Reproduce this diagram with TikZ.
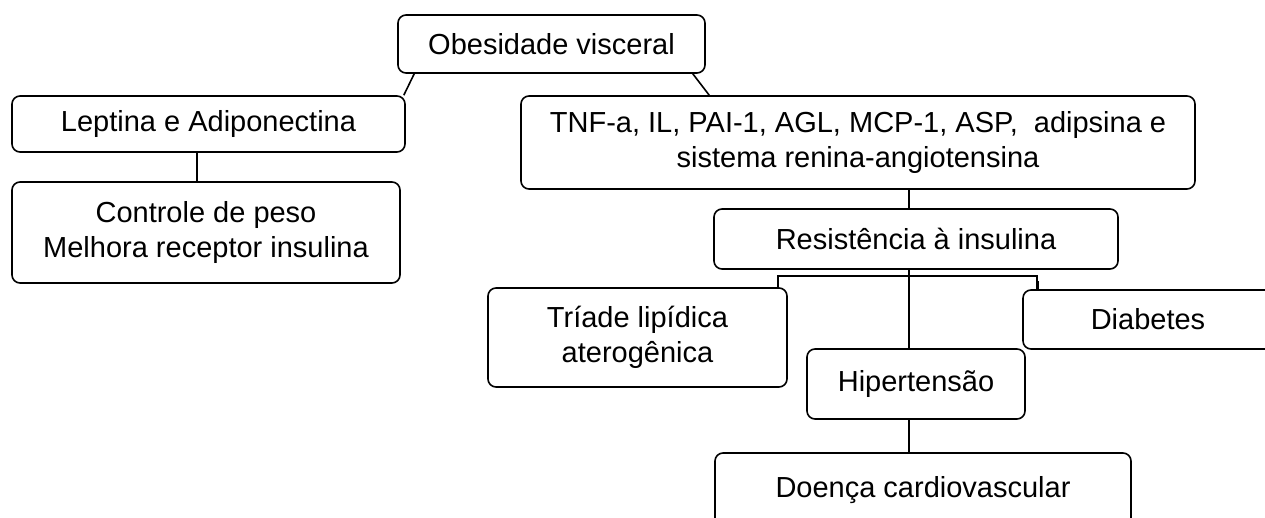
\documentclass[tikz,border=0pt]{standalone}
\usepackage{fontspec}
\setmainfont{Liberation Sans}
\begin{document}
\begin{tikzpicture}[x=1pt,y=-1pt,
  box/.style={draw=black,line width=1.6pt,rounded corners=8pt,inner sep=0pt,align=center,
    font=\fontsize{29}{35}\selectfont},
  link/.style={draw=black,line width=1.6pt}]
\useasboundingbox (0,0) rectangle (1265,518);
\fill[white] (0,0) rectangle (1265,518);
\clip (0,0) rectangle (1265,518);
\node[box,minimum width=307pt,minimum height=58pt] (obes) at (551.5,44) {Obesidade visceral};
\node[box,minimum width=393pt,minimum height=56pt] (lept) at (208.5,124) {Leptina e Adiponectina};
\node[box,minimum width=388pt,minimum height=101pt] (ctrl) at (206,232.5) {Controle de peso\\Melhora receptor insulina};
\node[box,minimum width=674pt,minimum height=93pt] (tnf) at (858,142.5) {TNF-a, IL, PAI-1, AGL, MCP-1, ASP,\ \ adipsina e\\sistema renina-angiotensina};
\node[box,minimum width=404pt,minimum height=60pt] (res) at (916,239) {Resistência à insulina};
\node[box,minimum width=299pt,minimum height=99pt] (tri) at (637.5,337.5) {Tríade lipídica\\aterogênica};
\node[box,minimum width=250pt,minimum height=59pt] (diab) at (1148,319.5) {Diabetes};
\node[box,minimum width=218pt,minimum height=70pt] (hip) at (916,384) {Hipertensão};
\node[box,minimum width=416pt,minimum height=74pt] (doen) at (923,490) {Doença cardiovascular};
% connectors
\draw[link] ([xshift=17pt]obes.south west) -- ([xshift=-2pt]lept.north east);
\draw[link] ([xshift=-13pt]obes.south east) -- ([xshift=189pt]tnf.north west);
\draw[link] ([xshift=-11.5pt]lept.south) -- ([xshift=-11.5pt]lept.south |- ctrl.north);
\draw[link] ([xshift=-7pt]res.north) -- ([xshift=-7pt]res.north |- tnf.south);
\draw[link] ([xshift=-7pt]res.south) -- ([xshift=-7pt]res.south |- hip.north);
\draw[link] ([xshift=-7pt]hip.south) -- ([xshift=-7pt]hip.south |- doen.north);
\draw[link] ([xshift=-10pt]tri.north east) -- ++(0,-11) -| ([xshift=15pt,yshift=8pt]diab.north west);
\draw[link,line width=3pt] ([xshift=15pt,yshift=8pt]diab.north west) -- ([xshift=15pt]diab.north west);
\end{tikzpicture}
\end{document}
